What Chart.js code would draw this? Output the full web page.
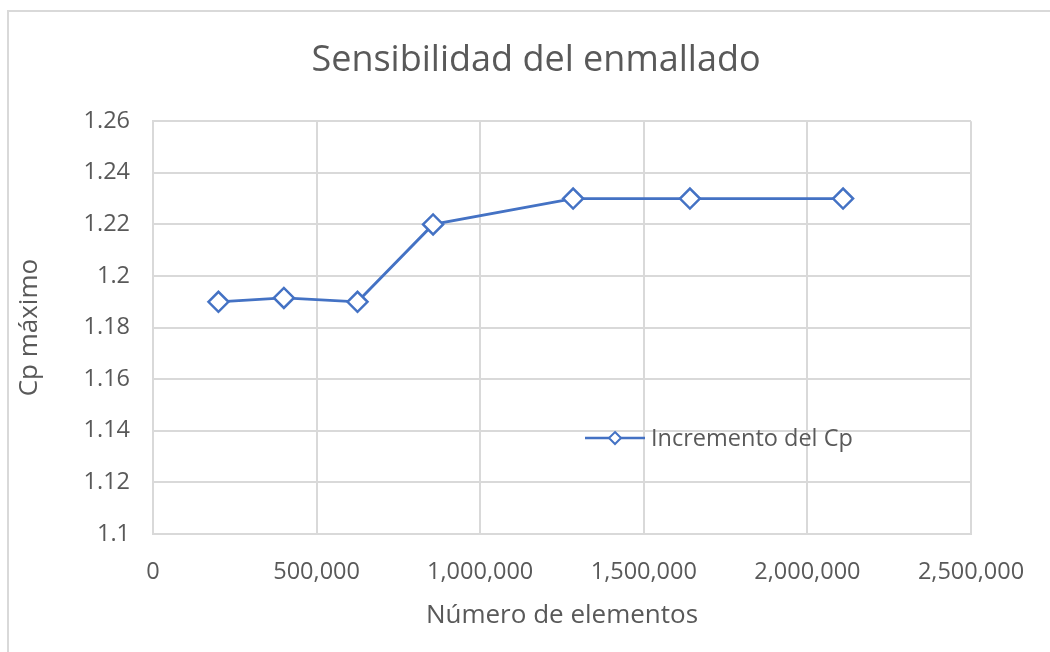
<!DOCTYPE html>
<html>
<head>
<meta charset="utf-8">
<script src="https://cdn.jsdelivr.net/npm/chart.js@4.4.1/dist/chart.umd.min.js"></script>
<style>
  html, body { margin: 0; padding: 0; background: #fff; }
  #wrap { position: absolute; left: 0; top: 0; width: 1050px; height: 652px; }
  #frame { position: absolute; left: 7px; top: 10px; width: 1043px; height: 642px;
           border-left: 2px solid #d9d9d9; border-top: 2px solid #d9d9d9; box-sizing: border-box; }
  canvas { position: absolute; left: 0; top: 0; }
</style>
</head>
<body>
<div id="wrap">
  <div id="frame"></div>
  <canvas id="c" width="1050" height="652"></canvas>
</div>
<script>
const chartTitle = "Sensibilidad del enmallado";
const xAxisTitle = "Número de elementos";
const yAxisTitle = "Cp máximo";
const seriesName = "Incremento del Cp";
const elementos = [200000, 400000, 625000, 856000, 1284000, 1641000, 2109000];
const cpMaximo = [1.19, 1.1915, 1.19, 1.22, 1.23, 1.23, 1.23];
const yTickValues = [1.1, 1.12, 1.14, 1.16, 1.18, 1.2, 1.22, 1.24, 1.26];
const xTickValues = [0, 500000, 1000000, 1500000, 2000000, 2500000];

const FONT = "'Open Sans', sans-serif";
const TXT = "#595959";
const BLUE = "#4472C4";
const GRID = "#d9d9d9";

const legendPlugin = {
  id: 'insideLegend',
  afterDatasetsDraw(chart) {
    const ctx = chart.ctx;
    const a = chart.chartArea;
    const ds = chart.data.datasets[0];
    const cx = a.left + (a.right - a.left) * 0.5648;
    const cy = a.top + (a.bottom - a.top) * 0.7676;
    ctx.save();
    ctx.strokeStyle = ds.borderColor;
    ctx.lineWidth = 2.5;
    ctx.beginPath();
    ctx.moveTo(cx - 30, cy);
    ctx.lineTo(cx + 30, cy);
    ctx.stroke();
    ctx.fillStyle = '#fff';
    ctx.beginPath();
    ctx.moveTo(cx, cy - 6);
    ctx.lineTo(cx + 6, cy);
    ctx.lineTo(cx, cy + 6);
    ctx.lineTo(cx - 6, cy);
    ctx.closePath();
    ctx.fill();
    ctx.lineWidth = 2;
    ctx.stroke();
    ctx.fillStyle = TXT;
    ctx.font = "23.5px " + FONT;
    ctx.textBaseline = 'middle';
    ctx.textAlign = 'left';
    ctx.fillText(ds.label, cx + 36, cy + 1);
    ctx.restore();
  }
};

new Chart(document.getElementById('c'), {
  type: 'scatter',
  data: {
    datasets: [{
      label: seriesName,
      data: elementos.map((x, i) => ({ x: x, y: cpMaximo[i] })),
      showLine: true,
      borderColor: BLUE,
      borderWidth: 2.8,
      backgroundColor: '#fff',
      pointStyle: 'rectRot',
      pointRadius: 10,
      pointHoverRadius: 10,
      pointBorderWidth: 2.5,
      pointBackgroundColor: '#fff',
      pointBorderColor: BLUE,
      tension: 0
    }]
  },
  options: {
    responsive: false,
    animation: false,
    devicePixelRatio: 1,
    layout: { padding: { left: 22, right: 0, top: 39, bottom: 0 } },
    plugins: {
      legend: { display: false },
      tooltip: { enabled: false },
      title: {
        display: true,
        text: chartTitle,
        color: TXT,
        font: { family: FONT, size: 36, weight: 'normal' },
        padding: { top: 0, bottom: 39 }
      }
    },
    scales: {
      x: {
        type: 'linear',
        min: 0, max: 2500000,
        afterBuildTicks: (s) => { s.ticks = xTickValues.map(v => ({ value: v })); },
        afterFit: (s) => { s.height = 118; s.paddingLeft = 0; s.paddingRight = 79; },
        ticks: {
          color: TXT,
          font: { family: FONT, size: 23.5 },
          padding: 24,
          maxRotation: 0,
          callback: (v) => Number(v).toLocaleString('en-US')
        },
        grid: { color: GRID, lineWidth: 2, drawTicks: false },
        border: { display: true, color: GRID, width: 2 },
        title: {
          display: true, text: xAxisTitle, color: TXT,
          font: { family: FONT, size: 26 }, padding: { top: 10, bottom: 21 }
        }
      },
      y: {
        type: 'linear',
        min: 1.1, max: 1.26,
        afterBuildTicks: (s) => { s.ticks = yTickValues.map(v => ({ value: v })); },
        afterFit: (s) => { s.width = 131; s.paddingTop = 0; s.paddingBottom = 0; },
        ticks: {
          color: TXT,
          font: { family: FONT, size: 23.5 },
          padding: 23,
          callback: (v) => String(Math.round(v * 100) / 100)
        },
        grid: { color: GRID, lineWidth: 2, drawTicks: false },
        border: { display: true, color: GRID, width: 2 },
        title: {
          display: true, text: yAxisTitle, color: TXT,
          font: { family: FONT, size: 26 }, padding: { top: -7.6, bottom: 10 }
        }
      }
    }
  },
  plugins: [legendPlugin]
});
</script>
</body>
</html>
